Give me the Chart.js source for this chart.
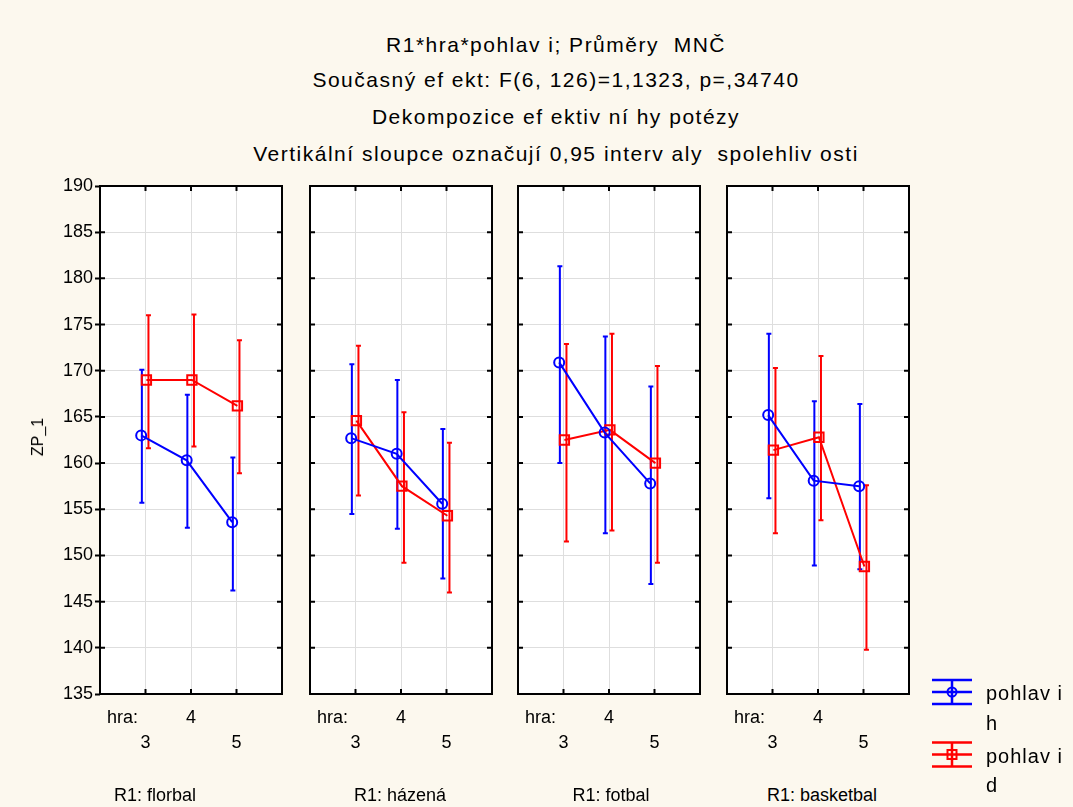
<!DOCTYPE html>
<html>
<head>
<meta charset="utf-8">
<script src="https://cdn.jsdelivr.net/npm/chart.js@4.4.0/dist/chart.umd.min.js"></script>
<style>
  body { margin: 0; background: #fcf8ee; font-family: "Liberation Sans", Arial, sans-serif; }
  #wrap { position: relative; width: 1073px; height: 807px; overflow: hidden; }
  #wrap canvas { position: absolute; }
  .t { position: absolute; white-space: pre; color: #000; line-height: 1; }
</style>
</head>
<body>
<div id="wrap"></div>
<script>
// Categories
const sports = ['florbal', 'házená', 'fotbal', 'basketbal'];
const hraLevels = [3, 4, 5];
const hraLabelRow = [1, 0, 1];   // 4 sits on the upper row, 3 and 5 below
const yTickValues = [135, 140, 145, 150, 155, 160, 165, 170, 175, 180, 185, 190];

const titleLines = [
    'R1*hra*pohlav i; Průměry  MNČ',
    'Současný ef ekt: F(6, 126)=1,1323, p=,34740',
    'Dekompozice ef ektiv ní hy potézy',
    'Vertikální sloupce označují 0,95 interv aly  spolehliv osti'
];
const yTitle = 'ZP_1';
const legendLabels = [['pohlav i', 'h'], ['pohlav i', 'd']];

// pohlavi h (blue) - means and 0.95 confidence limits, one row per sport
const meanH = [[163.0, 160.3, 153.6], [162.7, 161.0, 155.6], [170.9, 163.3, 157.8], [165.2, 158.1, 157.5]];
const lowH  = [[155.7, 153.0, 146.2], [154.5, 152.9, 147.5], [160.0, 152.4, 146.9], [156.2, 148.9, 148.5]];
const highH = [[170.1, 167.4, 160.6], [170.7, 169.0, 163.7], [181.3, 173.7, 168.3], [174.0, 166.7, 166.4]];

// pohlavi d (red)
const meanD = [[169.0, 169.0, 166.2], [164.6, 157.5, 154.3], [162.5, 163.6, 160.0], [161.4, 162.8, 148.8]];
const lowD  = [[161.6, 161.8, 158.9], [156.5, 149.2, 146.0], [151.5, 152.7, 149.2], [152.4, 153.8, 139.8]];
const highD = [[176.0, 176.1, 173.3], [172.7, 165.5, 162.2], [172.9, 174.0, 170.5], [170.3, 171.6, 157.6]];

const FONT = '"Liberation Sans", Arial, sans-serif';
const BLUE = '#0000ff';
const RED = '#ff0000';
const wrap = document.getElementById('wrap');

// layout of the four panels (page px)
const panelLeft = [100, 310, 518, 727];
const panelW = 182;
const canvasTop = 170;

function addText(text, x, y, size, align, extraCss) {
    const d = document.createElement('div');
    d.className = 't';
    d.textContent = text;
    d.style.left = x + 'px';
    d.style.top = y + 'px';
    d.style.fontSize = size + 'px';
    d.style.transform = 'translate(' + (align === 'center' ? '-50%' : '0') + ', -50%)';
    if (extraCss) d.style.cssText += extraCss;
    wrap.appendChild(d);
    return d;
}

// white plot area, error bars, frame with inner ticks, legend
const statPlugin = {
    id: 'statPanel',
    beforeDraw(chart) {
        const a = chart.chartArea, ctx = chart.ctx;
        ctx.save();
        ctx.fillStyle = '#ffffff';
        ctx.fillRect(a.left, a.top, a.right - a.left, a.bottom - a.top);
        ctx.restore();
    },
    beforeDatasetsDraw(chart) {
        const ctx = chart.ctx, xs = chart.scales.x, ys = chart.scales.y;
        ctx.save();
        ctx.lineWidth = 2;
        chart.data.datasets.forEach(ds => {
            ctx.strokeStyle = ds.borderColor;
            hraLevels.forEach((lvl, i) => {
                const x = xs.getPixelForValue(lvl + ds.barShift);
                const y1 = ys.getPixelForValue(ds.ciLow[i]);
                const y2 = ys.getPixelForValue(ds.ciHigh[i]);
                ctx.beginPath();
                ctx.moveTo(x, y1); ctx.lineTo(x, y2);
                ctx.moveTo(x - 2.5, y1); ctx.lineTo(x + 2.5, y1);
                ctx.moveTo(x - 2.5, y2); ctx.lineTo(x + 2.5, y2);
                ctx.stroke();
            });
        });
        ctx.restore();
    },
    afterDraw(chart) {
        const a = chart.chartArea, ctx = chart.ctx, xs = chart.scales.x, ys = chart.scales.y;
        ctx.save();
        ctx.strokeStyle = '#000';
        ctx.lineWidth = 2;
        ctx.strokeRect(a.left, a.top, a.right - a.left, a.bottom - a.top);
        ctx.beginPath();
        yTickValues.forEach(v => {
            const y = ys.getPixelForValue(v);
            ctx.moveTo(a.left, y); ctx.lineTo(a.left + 5, y);
            ctx.moveTo(a.right, y); ctx.lineTo(a.right - 5, y);
        });
        hraLevels.forEach(v => {
            const x = xs.getPixelForValue(v);
            ctx.moveTo(x, a.top); ctx.lineTo(x, a.top + 5);
            ctx.moveTo(x, a.bottom); ctx.lineTo(x, a.bottom - 5);
        });
        ctx.stroke();

        const opts = chart.options.plugins.statPanel;
        if (opts && opts.legend) {
            const lx = a.right + 43;
            const rows = [a.bottom - 2, a.bottom + 60.5];
            chart.data.datasets.forEach((ds, k) => {
                const ly = rows[k];
                ctx.strokeStyle = ds.borderColor;
                ctx.lineWidth = 2.5;
                ctx.beginPath();
                [-12, 0, 12].forEach(dy => { ctx.moveTo(lx - 20, ly + dy); ctx.lineTo(lx + 20, ly + dy); });
                ctx.moveTo(lx, ly - 12); ctx.lineTo(lx, ly + 12);
                ctx.stroke();
                ctx.lineWidth = 2;
                ctx.beginPath();
                if (ds.pointStyle === 'rect') ctx.rect(lx - 4.5, ly - 4.5, 9, 9);
                else ctx.arc(lx, ly, 4.5, 0, Math.PI * 2);
                ctx.stroke();
            });
        }
        ctx.restore();
    }
};

sports.forEach((sport, p) => {
    const isFirst = p === 0;
    const isLast = p === sports.length - 1;
    const canvasLeft = panelLeft[p] - 100;
    const cw = isLast ? 1073 - canvasLeft : 300;
    const ch = 604;

    const cv = document.createElement('canvas');
    cv.width = cw; cv.height = ch;
    cv.style.left = canvasLeft + 'px';
    cv.style.top = canvasTop + 'px';
    wrap.appendChild(cv);

    new Chart(cv.getContext('2d'), {
        type: 'line',
        data: {
            datasets: [{
                label: legendLabels[0].join(' '),
                data: hraLevels.map((lvl, i) => ({ x: lvl - 0.095, y: meanH[p][i] })),
                ciLow: lowH[p], ciHigh: highH[p], barShift: -0.08,
                borderColor: BLUE,
                borderWidth: 2,
                pointStyle: 'circle',
                pointRadius: 5,
                pointBorderWidth: 2,
                pointBorderColor: BLUE,
                pointBackgroundColor: 'rgba(0,0,0,0)',
                tension: 0
            }, {
                label: legendLabels[1].join(' '),
                data: hraLevels.map((lvl, i) => ({ x: lvl + 0.02, y: meanD[p][i] })),
                ciLow: lowD[p], ciHigh: highD[p], barShift: 0.065,
                borderColor: RED,
                borderWidth: 2,
                pointStyle: 'rect',
                pointRadius: 6.6,
                pointBorderWidth: 2,
                pointBorderColor: RED,
                pointBackgroundColor: 'rgba(0,0,0,0)',
                tension: 0
            }]
        },
        options: {
            responsive: false,
            animation: false,
            devicePixelRatio: 1,
            layout: { padding: { top: 16, right: cw - 100 - panelW, left: 0, bottom: 0 } },
            plugins: {
                legend: { display: false },
                tooltip: { enabled: false },
                statPanel: { legend: isLast }
            },
            scales: {
                x: {
                    type: 'linear',
                    min: 2,
                    max: 6,
                    afterBuildTicks: s => { s.ticks = hraLevels.map(v => ({ value: v })); },
                    afterFit: s => { s.height = 80; },
                    ticks: {
                        color: '#000',
                        font: { family: FONT, size: 18, lineHeight: 1.4 },
                        padding: 11,
                        maxRotation: 0,
                        autoSkip: false,
                        callback: v => {
                            const i = hraLevels.indexOf(v);
                            return hraLabelRow[i] ? ['', String(v)] : [String(v), ''];
                        }
                    },
                    grid: { color: '#dedede', lineWidth: 1, drawTicks: false },
                    border: { display: false }
                },
                y: {
                    min: 135,
                    max: 190,
                    afterBuildTicks: s => { s.ticks = yTickValues.map(v => ({ value: v })); },
                    afterFit: s => { s.width = 100; },
                    ticks: {
                        display: isFirst,
                        color: '#000',
                        font: { family: FONT, size: 18 },
                        padding: 2
                    },
                    grid: {
                        color: '#dedede',
                        lineWidth: 1,
                        drawTicks: isFirst,
                        tickLength: 5,
                        tickColor: '#000',
                        tickWidth: 2
                    },
                    border: { display: false }
                }
            }
        },
        plugins: [statPlugin]
    });

    addText('hra:', panelLeft[p] + 7, 717, 18, 'left');
});

// titles and remaining text
const titleY = [44, 79, 116, 153];
titleLines.forEach((t, i) => addText(t, 556, titleY[i], 21, 'center', 'letter-spacing:1.5px;'));

const yt = addText(yTitle, 38, 437, 16, 'center');
yt.style.transform = 'translate(-50%, -50%) rotate(-90deg)';

const sportLabelX = [155, 400, 611, 822];
sports.forEach((s, p) => addText('R1: ' + s, sportLabelX[p], 795, 18, 'center'));

const legendTextY = [[693, 723], [756, 785]];
legendLabels.forEach((lines, k) => {
    lines.forEach((line, j) => addText(line, 986, legendTextY[k][j], 20, 'left', 'letter-spacing:1px;'));
});
</script>
</body>
</html>
